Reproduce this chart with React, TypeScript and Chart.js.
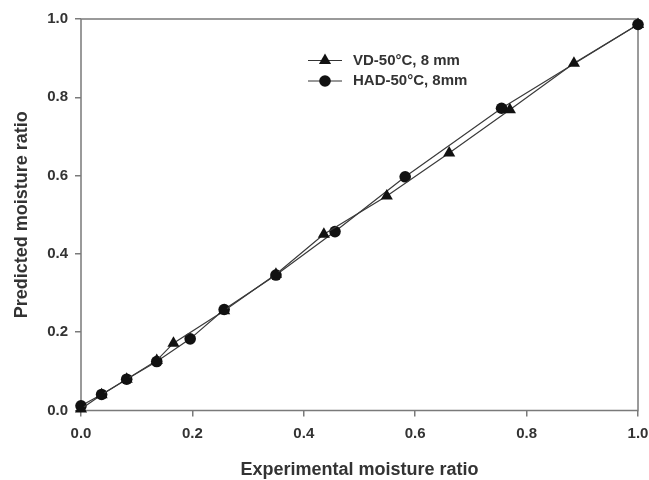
import React, { useEffect, useRef } from "react";
import { Chart, registerables } from "chart.js";

Chart.register(...registerables);

// Data
const vdX = [0.0, 0.037, 0.082, 0.136, 0.166, 0.257, 0.35, 0.436, 0.549, 0.661, 0.77, 0.885, 1.0];
const vdY = [0.004, 0.04, 0.08, 0.128, 0.172, 0.255, 0.348, 0.45, 0.548, 0.658, 0.768, 0.887, 0.986];
const hadX = [0.0, 0.037, 0.082, 0.136, 0.196, 0.257, 0.35, 0.456, 0.582, 0.755, 1.0];
const hadY = [0.012, 0.041, 0.08, 0.125, 0.183, 0.258, 0.346, 0.457, 0.597, 0.772, 0.986];
const seriesLabels = ["VD-50°C, 8 mm", "HAD-50°C, 8mm"];
const tickValues = [0, 0.2, 0.4, 0.6, 0.8, 1.0];
const xTitle = "Experimental moisture ratio";
const yTitle = "Predicted moisture ratio";

const FONT = "'Liberation Sans', Arial, sans-serif";
const AXIS_COLOR = "#7a7a7a";
const TEXT_COLOR = "#333333";

const framePlugin = {
  id: "frame",
  beforeDatasetsDraw(chart: any) {
    const { ctx, chartArea } = chart;
    ctx.save();
    ctx.strokeStyle = AXIS_COLOR;
    ctx.lineWidth = 1.5;
    ctx.strokeRect(chartArea.left, chartArea.top, chartArea.right - chartArea.left, chartArea.bottom - chartArea.top);
    ctx.restore();
  },
};

const legendPlugin = {
  id: "insideLegend",
  afterDraw(chart: any) {
    const { ctx } = chart;
    const x0 = 308;
    const rows = [60.5, 81];
    ctx.save();
    chart.data.datasets.forEach((ds: any, i: number) => {
      const y = rows[i];
      ctx.strokeStyle = "#333";
      ctx.lineWidth = 1.2;
      ctx.beginPath();
      ctx.moveTo(x0, y);
      ctx.lineTo(x0 + 34, y);
      ctx.stroke();
      const cx = x0 + 17;
      ctx.fillStyle = "#111";
      ctx.beginPath();
      if (ds.pointStyle === "triangle") {
        const r = 7;
        ctx.moveTo(cx, y - r);
        ctx.lineTo(cx + r * 0.866, y + r * 0.5);
        ctx.lineTo(cx - r * 0.866, y + r * 0.5);
        ctx.closePath();
      } else {
        ctx.arc(cx, y, 5.8, 0, Math.PI * 2);
      }
      ctx.fill();
      ctx.fillStyle = TEXT_COLOR;
      ctx.font = `bold 15px ${FONT}`;
      ctx.textBaseline = "middle";
      ctx.textAlign = "left";
      ctx.fillText(ds.label, x0 + 45, y);
    });
    ctx.restore();
  },
};

export default function App() {
  const ref = useRef<HTMLCanvasElement | null>(null);
  useEffect(() => {
    if (!ref.current) return;
    const vdData = vdX.map((x, i) => ({ x, y: vdY[i] }));
    const hadData = hadX.map((x, i) => ({ x, y: hadY[i] }));
    const chart = new Chart(ref.current, {
      type: "scatter",
      data: {
        datasets: [
          {
            label: seriesLabels[0],
            data: vdData,
            showLine: true,
            borderColor: "#3a3a3a",
            borderWidth: 1.2,
            backgroundColor: "#111",
            pointBackgroundColor: "#111",
            pointBorderColor: "#111",
            pointBorderWidth: 0,
            pointStyle: "triangle",
            pointRadius: 7,
            clip: false,
          } as any,
          {
            label: seriesLabels[1],
            data: hadData,
            showLine: true,
            borderColor: "#3a3a3a",
            borderWidth: 1.2,
            backgroundColor: "#111",
            pointBackgroundColor: "#111",
            pointBorderColor: "#111",
            pointBorderWidth: 0,
            pointStyle: "circle",
            pointRadius: 5.8,
            clip: false,
          } as any,
        ],
      },
      options: {
        responsive: false,
        animation: false,
        layout: { padding: { left: 0, top: 19, right: 11, bottom: 0 } },
        plugins: { legend: { display: false }, tooltip: { enabled: false } },
        scales: {
          x: {
            type: "linear",
            min: 0,
            max: 1,
            afterBuildTicks: (scale: any) => {
              scale.ticks = tickValues.map((v) => ({ value: v }));
            },
            afterFit: (scale: any) => {
              scale.height = 69.5;
              scale.paddingLeft = 0;
              scale.paddingRight = 0;
            },
            ticks: {
              padding: 8,
              color: TEXT_COLOR,
              font: { family: FONT, size: 15, weight: "bold" },
              callback: (v: any) => Number(v).toFixed(1),
            },
            grid: {
              display: true,
              drawOnChartArea: false,
              drawTicks: true,
              tickLength: 6,
              color: AXIS_COLOR,
              lineWidth: 1.5,
            },
            border: { display: false },
            title: {
              display: true,
              text: xTitle,
              color: TEXT_COLOR,
              font: { family: FONT, size: 18, weight: "bold", lineHeight: 1.1 },
              padding: { top: 0, bottom: 0 },
            },
          },
          y: {
            type: "linear",
            min: 0,
            max: 1,
            afterBuildTicks: (scale: any) => {
              scale.ticks = tickValues.map((v) => ({ value: v }));
            },
            afterFit: (scale: any) => {
              scale.width = 81;
              scale.paddingTop = 0;
              scale.paddingBottom = 0;
            },
            ticks: {
              padding: 7,
              color: TEXT_COLOR,
              font: { family: FONT, size: 15, weight: "bold" },
              callback: (v: any) => Number(v).toFixed(1),
            },
            grid: {
              display: true,
              drawOnChartArea: false,
              drawTicks: true,
              tickLength: 6,
              color: AXIS_COLOR,
              lineWidth: 1.5,
            },
            border: { display: false },
            title: {
              display: true,
              text: yTitle,
              color: TEXT_COLOR,
              font: { family: FONT, size: 18, weight: "bold", lineHeight: 1.2 },
              padding: { top: 11, bottom: 0 },
            },
          },
        },
      },
      plugins: [framePlugin, legendPlugin],
    });
    return () => chart.destroy();
  }, []);
  return (
    <div style={{ position: "fixed", left: 0, top: 0, width: 649, height: 480, background: "#fff" }}>
      <canvas ref={ref} width={649} height={480} style={{ width: 649, height: 480 }} />
    </div>
  );
}
